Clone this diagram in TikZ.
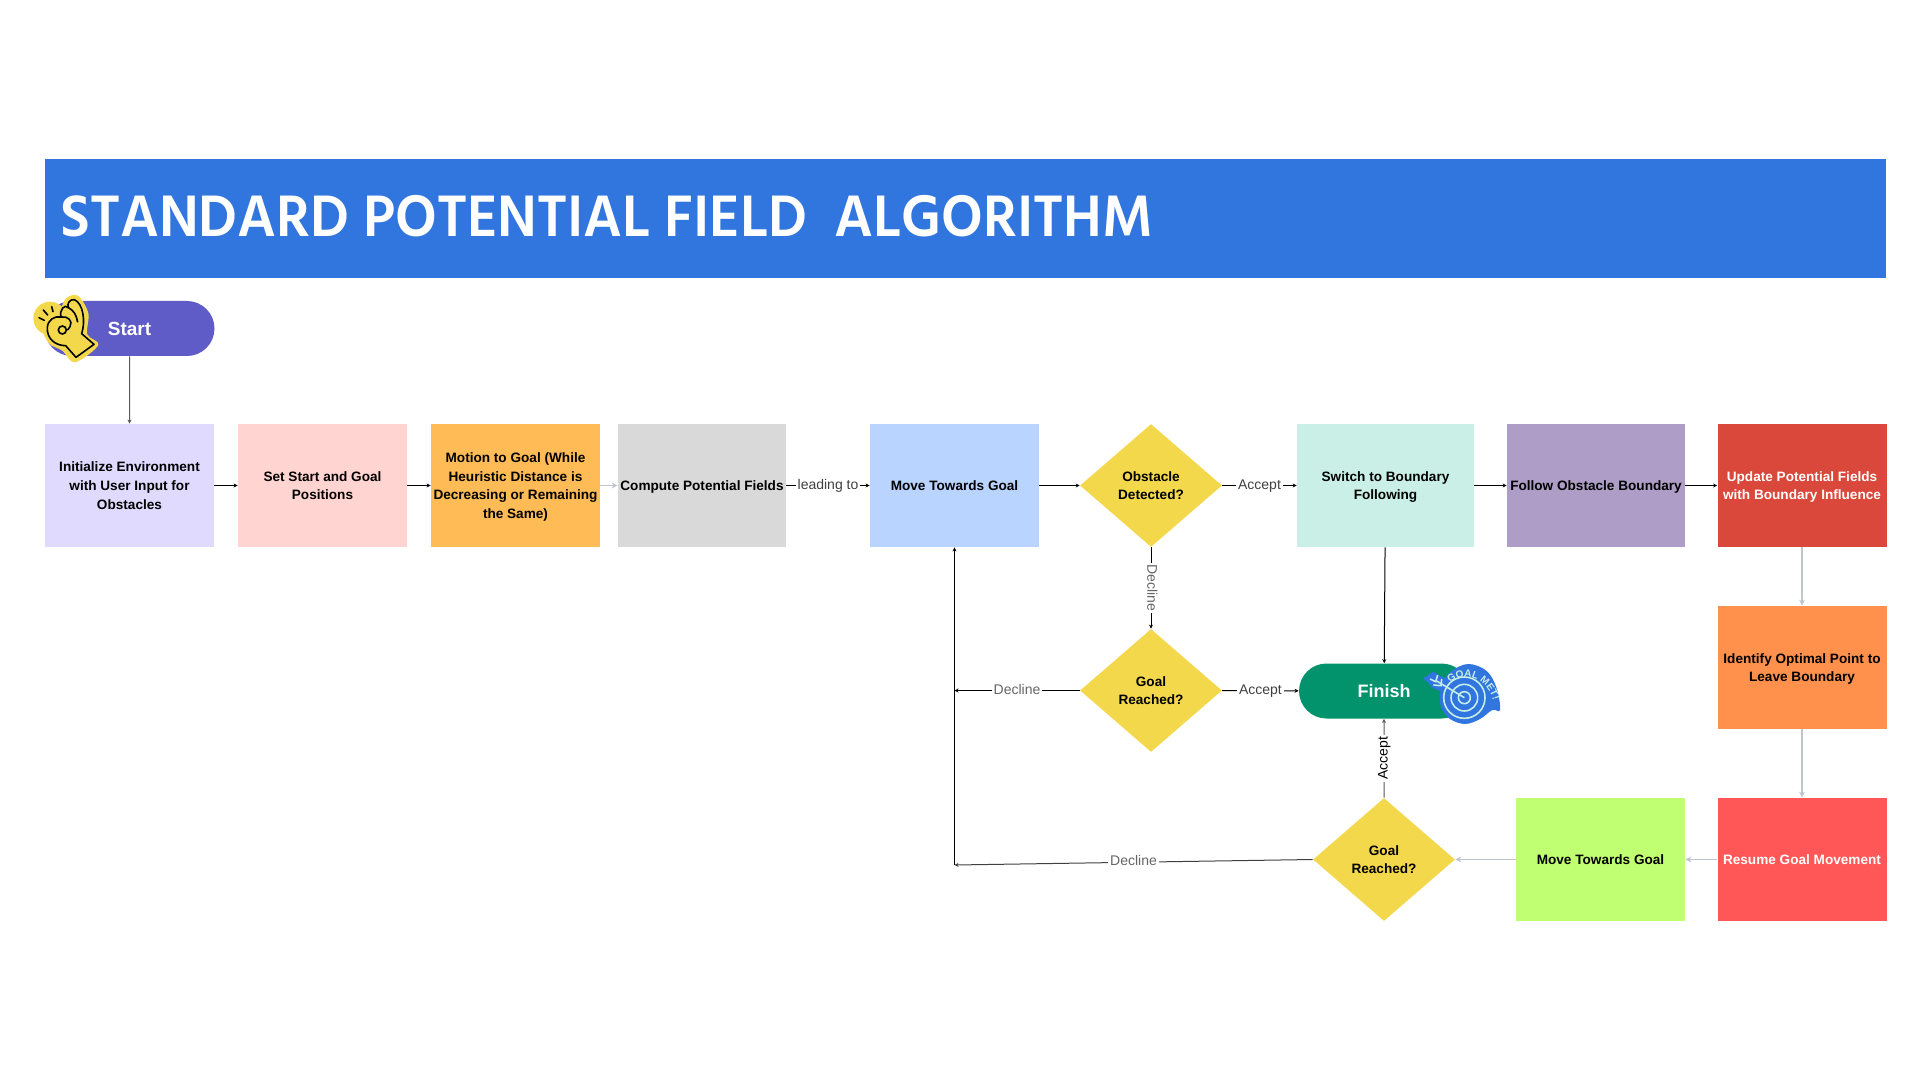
\documentclass[tikz,border=0pt]{standalone}
\usepackage{fontspec}
\setmainfont{Liberation Sans}
\newfontfamily\titlefont{Hind Siliguri}
\usepackage{xcolor}
\usetikzlibrary{positioning,calc,arrows.meta,shapes.geometric,shapes.misc,decorations.text}
\definecolor{BannerBlue}{HTML}{3176DE}
\definecolor{StartViolet}{HTML}{5F5BC7}
\definecolor{FinishGreen}{HTML}{03936C}
\definecolor{InitLilac}{HTML}{E0DAFE}
\definecolor{SetPink}{HTML}{FFD4D1}
\definecolor{MotionAmber}{HTML}{FFBB55}
\definecolor{ComputeGrey}{HTML}{D9D9D9}
\definecolor{MoveBlue}{HTML}{B8D4FF}
\definecolor{AskYellow}{HTML}{F4D84C}
\definecolor{SwitchMint}{HTML}{C9EFE6}
\definecolor{FollowPurple}{HTML}{AE9DC6}
\definecolor{UpdateRed}{HTML}{D9483B}
\definecolor{LeaveOrange}{HTML}{FF914D}
\definecolor{ResumeCoral}{HTML}{FF5757}
\definecolor{MoveLime}{HTML}{C1FF72}
\definecolor{PaleLine}{HTML}{BEC7D0}
\definecolor{RingMint}{HTML}{C4EDE8}
\tikzset{
  stepbox/.style={rectangle, minimum height=61.5pt, inner sep=0pt, align=center, text depth=0pt,
    font=\bfseries\fontsize{6.8}{9.35}\selectfont},
  askbox/.style={diamond, shape aspect=1.15, fill=AskYellow, minimum width=71pt,
    minimum height=61.5pt, inner sep=0pt, align=center, text depth=0pt,
    font=\bfseries\fontsize{6.8}{9.35}\selectfont},
  pillbox/.style={rounded rectangle, minimum height=27.5pt, minimum width=85pt,
    inner sep=0pt, text=white},
  darkflow/.style={black, line width=0.5pt, -{Stealth[length=2pt,width=2pt]}},
  paleflow/.style={PaleLine, line width=0.8pt, -{Stealth[length=3pt,width=3pt]}},
  flowlabel/.style={fill=white, inner sep=1pt, text=black!75, font=\fontsize{7}{9}\selectfont,
    execute at begin node=\strut},
}
\begin{document}
\begin{tikzpicture}[x=0.5pt, y=-0.5pt]
  \useasboundingbox (0,0) rectangle (1920,1080);
  % banner
  \node[rectangle, fill=BannerBlue, minimum width=920.5pt, minimum height=59.5pt, inner sep=0pt] (banner) at (965.5,218.5) {};
  \node[anchor=west, inner sep=0pt, text=white, xscale=0.962, font=\titlefont\bfseries\fontsize{30}{32}\selectfont] (title) at (60,216) {STANDARD POTENTIAL FIELD \ ALGORITHM};
  % top row
  \node[pillbox, fill=StartViolet, font=\bfseries\fontsize{9.5}{11}\selectfont] (start) at (129.5,328.5) {Start};
  \node[stepbox, fill=InitLilac, minimum width=84.5pt] (init) at (129.5,485.5) {Initialize Environment\\with User Input for\\Obstacles};
  \node[stepbox, fill=SetPink, minimum width=84.5pt] (setpos) at (322.5,485.5) {Set Start and Goal\\Positions};
  \node[stepbox, fill=MotionAmber, minimum width=84.5pt] (motion) at (515.5,485.5) {Motion to Goal (While\\Heuristic Distance is\\Decreasing or Remaining\\the Same)};
  \node[stepbox, fill=ComputeGrey, minimum width=84pt] (compute) at (702,485.5) {Compute Potential Fields};
  \node[stepbox, fill=MoveBlue, minimum width=84.5pt] (move) at (954.5,485.5) {Move Towards Goal};
  \node[askbox] (obstacle) at (1151,485.5) {Obstacle\\Detected?};
  \node[stepbox, fill=SwitchMint, minimum width=88.5pt] (switch) at (1385.5,485.5) {Switch to Boundary\\Following};
  \node[stepbox, fill=FollowPurple, minimum width=89pt] (follow) at (1596,485.5) {Follow Obstacle Boundary};
  \node[stepbox, fill=UpdateRed, text=white, minimum width=84.5pt] (update) at (1802,485.5) {Update Potential Fields\\with Boundary Influence};
  % right column and lower row
  \node[stepbox, fill=LeaveOrange, minimum width=84.5pt] (leave) at (1802,667.5) {Identify Optimal Point to\\Leave Boundary};
  \node[stepbox, fill=ResumeCoral, text=white, minimum width=84.5pt] (resume) at (1802,859.5) {Resume Goal Movement};
  \node[stepbox, fill=MoveLime, minimum width=84.5pt] (moveback) at (1600.5,859.5) {Move Towards Goal};
  \node[askbox] (goalmid) at (1151,690.5) {Goal\\Reached?};
  \node[askbox] (goallow) at (1384,859.5) {Goal\\Reached?};
  \node[pillbox, fill=FinishGreen, font=\bfseries\fontsize{9}{11}\selectfont] (finish) at (1384,691) {Finish};
  \coordinate (corner) at (954.5,865);
  \coordinate (joinmid) at (954.5,690.5);
  % connectors
  \draw[darkflow, black!65] (start) -- (init);
  \foreach \from/\to in {init/setpos, setpos/motion, move/obstacle, switch/follow, follow/update} {
    \draw[darkflow] (\from) -- (\to);
  }
  \foreach \from/\to in {update/leave, leave/resume, resume/moveback, moveback/goallow, motion/compute} {
    \draw[paleflow] (\from) -- (\to);
  }
  \draw[darkflow] (compute) -- node[flowlabel] (leadlabel) {leading to} (move);
  \draw[darkflow] (obstacle) -- node[flowlabel] (acclabela) {Accept} (switch);
  \draw[darkflow] (obstacle) -- node[flowlabel, rotate=-90, text=black!60] (declabela) {Decline} (goalmid);
  \draw[darkflow] (goalmid) -- node[flowlabel] (acclabelb) {Accept} (finish);
  \draw[darkflow] (goalmid) -- node[flowlabel, text=black!60] (declabelb) {Decline} (joinmid);
  \draw[darkflow] (switch) -- (finish);
  \draw[darkflow, black!65] (goallow) -- node[flowlabel, rotate=90, text=black] (acclabelc) {Accept} (finish);
  \draw[darkflow, black!75] (goallow.west) -- node[flowlabel, text=black!60] (declabelc) {Decline} (corner);
  \draw[darkflow] (corner) -- (move);
  % hand sticker
  \begin{scope}[shift={(25,285)}, x=0.16667pt, y=-0.16667pt]
    \fill[AskYellow] (75,100) circle (50);
    \fill[AskYellow] plot[smooth cycle, tension=0.55] coordinates {(125,38) (160,33) (190,85) (187,148) (220,180) (150,232) (112,197) (72,175) (50,125) (75,85) (105,72)};
    \draw[black, line width=0.8pt, line join=round] (207,178) -- (153,217) -- (122,182)
      .. controls (90,182) and (65,160) .. (67,128)
      .. controls (68,105) and (88,92) .. (108,96)
      .. controls (102,75) and (120,55) .. (130,68)
      .. controls (125,55) and (135,42) .. (148,44)
      .. controls (175,55) and (182,110) .. (170,146) -- cycle;
    \draw[black, line width=0.8pt] (112,135) circle (12);
    \draw[black, line width=0.8pt] (108,96) .. controls (128,92) and (145,108) .. (135,125) .. controls (132,132) and (128,135) .. (124,135);
    \draw[black, line width=0.8pt] (130,68) .. controls (145,75) and (155,90) .. (158,112);
    \draw[black, line width=0.8pt, line cap=round] (42,98) -- (58,106) (55,75) -- (68,90) (80,65) -- (84,80);
  \end{scope}
  % target sticker
  \begin{scope}[shift={(1415,655)}, x=0.16667pt, y=-0.16667pt]
    \fill[BannerBlue] plot[smooth cycle, tension=0.6] coordinates {(75,130) (82,85) (110,48) (160,27) (215,48) (245,100) (255,165) (232,165) (195,192) (150,207) (105,192) (80,160)};
    \fill[BannerBlue] (25,70) -- (55,50) -- (105,80) -- (80,110) -- (55,100) -- cycle;
    \draw[RingMint, line width=0.8pt] (148,128) circle (62) (148,128) circle (40) (148,128) circle (18);
    \draw[RingMint, line width=0.8pt] (65,78) -- (148,128);
    \draw[RingMint, line width=0.8pt] (45,72) -- (62,80) -- (68,60) (55,90) -- (78,92) -- (80,72);
    \path[decorate, decoration={text along path, text align=center,
      text={|\bfseries\fontsize{5}{6}\selectfont\color{RingMint}|GOAL MET!}}]
      (95,92) .. controls (125,50) and (218,52) .. (238,150);
  \end{scope}
\end{tikzpicture}
\end{document}
